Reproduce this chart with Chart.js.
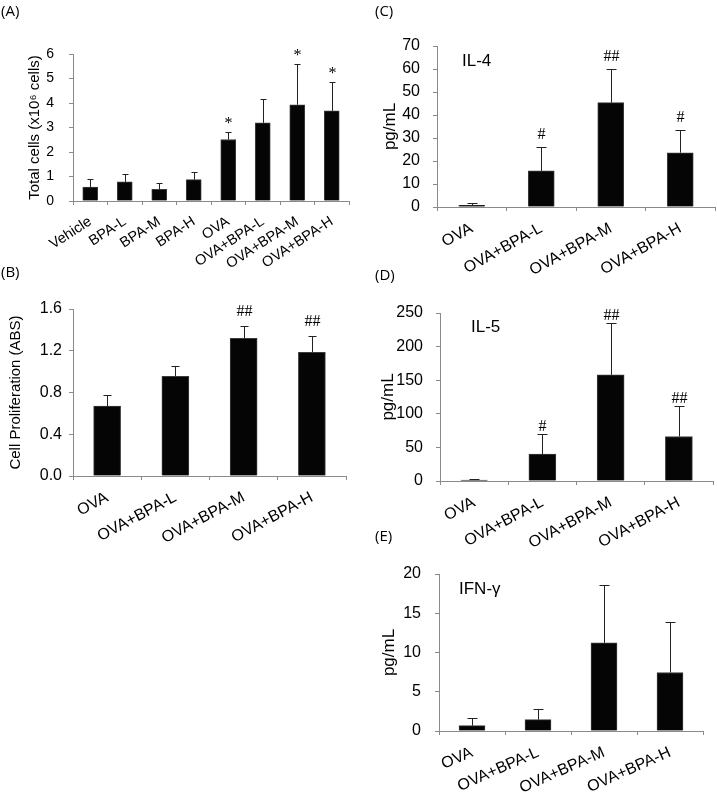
<!DOCTYPE html>
<html>
<head>
<meta charset="utf-8">
<script src="https://cdn.jsdelivr.net/npm/chart.js@4.4.0/dist/chart.umd.min.js"></script>
<style>
body{margin:0;background:#fff;}
#wrap{position:relative;width:717px;height:798px;overflow:hidden;}
canvas{position:absolute;}
.tag{position:absolute;font:15px 'Open Sans','Liberation Sans',Arial,sans-serif;color:#000;}
</style>
</head>
<body>
<div id="wrap">
  <canvas id="chartA" width="360" height="275" style="left:0;top:0"></canvas>
  <canvas id="chartB" width="360" height="320" style="left:0;top:245px"></canvas>
  <canvas id="chartC" width="357" height="295" style="left:360px;top:0"></canvas>
  <canvas id="chartD" width="357" height="300" style="left:360px;top:265px"></canvas>
  <canvas id="chartE" width="357" height="268" style="left:360px;top:530px"></canvas>
  <div class="tag" style="left:1px;top:0px">(A)</div>
  <div class="tag" style="left:1px;top:261px">(B)</div>
  <div class="tag" style="left:375px;top:0px">(C)</div>
  <div class="tag" style="left:375px;top:264px">(D)</div>
  <div class="tag" style="left:375px;top:525px">(E)</div>
</div>
<script>
// groups
var allGroups = ['Vehicle', 'BPA-L', 'BPA-M', 'BPA-H', 'OVA', 'OVA+BPA-L', 'OVA+BPA-M', 'OVA+BPA-H'];
var ovaGroups = ['OVA', 'OVA+BPA-L', 'OVA+BPA-M', 'OVA+BPA-H'];

// (A) total cells, x10^6
var totalCells = [0.57, 0.78, 0.48, 0.87, 2.51, 3.19, 3.93, 3.68];
var totalCellsErr = [0.32, 0.31, 0.24, 0.32, 0.30, 0.98, 1.65, 1.16];
var totalCellsMarks = ['', '', '', '', '*', '', '*', '*'];

// (B) cell proliferation (ABS)
var prolif = [0.67, 0.955, 1.318, 1.186];
var prolifErr = [0.106, 0.10, 0.118, 0.151];
var prolifMarks = ['', '', '##', '##'];

// (C) IL-4 pg/mL
var il4 = [0.7, 15.7, 45.4, 23.6];
var il4Err = [0.9, 10.5, 14.7, 10.0];
var il4Marks = ['', '#', '##', '#'];

// (D) IL-5 pg/mL
var il5 = [1.5, 40, 158, 66.2];
var il5Err = [1.0, 29.7, 77.7, 45.5];
var il5Marks = ['', '#', '##', '##'];

// (E) IFN-gamma pg/mL
var ifn = [0.68, 1.45, 11.23, 7.45];
var ifnErr = [0.94, 1.32, 7.37, 6.38];
var ifnMarks = ['', '', '', ''];

var sans = "'Liberation Sans', Arial, sans-serif";
var axisGray = '#8a8a8a';

// draws the upper error bars, the significance marks and the inner label
var errorBarPlugin = {
  id: 'errorBars',
  afterDatasetsDraw: function(chart, args, opts) {
    var ds = chart.data.datasets[0];
    var meta = chart.getDatasetMeta(0);
    var y = chart.scales.y;
    var ctx = chart.ctx;
    ctx.save();
    ctx.strokeStyle = '#222';
    ctx.lineWidth = 1;
    meta.data.forEach(function(bar, i) {
      var top = Math.round(y.getPixelForValue(ds.data[i] + ds.errors[i])) + 0.5;
      var x = Math.round(bar.x) + 0.5;
      ctx.beginPath();
      ctx.moveTo(x, bar.y);
      ctx.lineTo(x, top);
      ctx.moveTo(x - opts.cap, top);
      ctx.lineTo(x + opts.cap, top);
      ctx.stroke();
      if (ds.marks[i]) {
        ctx.fillStyle = '#000';
        ctx.font = "16px 'Liberation Serif', 'Times New Roman', serif";
        ctx.textAlign = 'center';
        ctx.textBaseline = 'middle';
        ctx.fillText(ds.marks[i], x, top - opts.markGap);
      }
    });
    if (opts.inner) {
      ctx.fillStyle = '#000';
      ctx.font = '17px ' + sans;
      ctx.textAlign = 'left';
      ctx.textBaseline = 'middle';
      ctx.fillText(opts.inner, chart.chartArea.left + opts.innerX, chart.chartArea.top + opts.innerY);
    }
    ctx.restore();
  }
};

function makePanel(id, labels, values, errors, marks, yMax, yStep, decimals, yTitle, p) {
  var ctx = document.getElementById(id).getContext('2d');
  return new Chart(ctx, {
    type: 'bar',
    data: {
      labels: labels,
      datasets: [{
        data: values,
        errors: errors,
        marks: marks,
        backgroundColor: '#050505',
        borderColor: '#3c3c3c',
        borderWidth: 1,
        barThickness: p.barW
      }]
    },
    options: {
      responsive: false,
      animation: false,
      layout: { padding: { top: p.padTop, right: p.padRight, left: 0, bottom: 0 } },
      plugins: {
        legend: { display: false },
        tooltip: { enabled: false },
        errorBars: { cap: p.cap, markGap: p.markGap, inner: p.inner, innerX: p.innerX, innerY: p.innerY }
      },
      scales: {
        x: {
          grid: { drawOnChartArea: false, drawTicks: true, tickLength: 4, color: axisGray },
          border: { color: axisGray },
          ticks: {
            autoSkip: false, minRotation: p.rot, maxRotation: p.rot, padding: 8,
            color: '#000', font: { family: sans, size: p.xFont }
          },
          afterFit: function(s) { s.height = p.xH; }
        },
        y: {
          min: 0, max: yMax,
          grid: { drawOnChartArea: false, drawTicks: true, tickLength: 4, color: axisGray },
          border: { color: axisGray },
          ticks: {
            stepSize: yStep, padding: p.tickPad, color: '#000',
            font: { family: sans, size: p.yFont },
            callback: function(v) { return v.toFixed(decimals); }
          },
          title: {
            display: true, text: yTitle, color: '#000',
            font: { family: sans, size: p.titleFont },
            padding: { top: p.titlePad, bottom: 0 }
          },
          afterFit: function(s) { s.width = p.yW; }
        }
      }
    },
    plugins: [errorBarPlugin]
  });
}

makePanel('chartA', allGroups, totalCells, totalCellsErr, totalCellsMarks, 6, 1, 0,
  'Total cells (x10\u2076 cells)',
  { yW: 73, xH: 74, padTop: 54, padRight: 11, barW: 15, cap: 3, markGap: 9, tickPad: 15, titlePad: 26,
    xFont: 14.5, yFont: 14, titleFont: 15, rot: 33 });

makePanel('chartB', ovaGroups, prolif, prolifErr, prolifMarks, 1.6, 0.4, 1,
  'Cell Proliferation (ABS)',
  { yW: 73, xH: 89, padTop: 64, padRight: 14, barW: 27, cap: 4, markGap: 15, tickPad: 7, titlePad: 7,
    xFont: 16, yFont: 16, titleFont: 15, rot: 28 });

makePanel('chartC', ovaGroups, il4, il4Err, il4Marks, 70, 10, 0, 'pg/mL',
  { yW: 77, xH: 88, padTop: 46, padRight: 2, barW: 26, cap: 5, markGap: 13, tickPad: 13, titlePad: 20,
    xFont: 16, yFont: 16, titleFont: 17, rot: 29, inner: 'IL-4', innerX: 25, innerY: 15 });

makePanel('chartD', ovaGroups, il5, il5Err, il5Marks, 250, 50, 0, 'pg/mL',
  { yW: 80, xH: 84, padTop: 48, padRight: 4, barW: 27, cap: 5, markGap: 8, tickPad: 13, titlePad: 18,
    xFont: 16, yFont: 16, titleFont: 17, rot: 28, inner: 'IL-5', innerX: 31, innerY: 14 });

makePanel('chartE', ovaGroups, ifn, ifnErr, ifnMarks, 20, 5, 0, 'pg/mL',
  { yW: 79, xH: 67, padTop: 44, padRight: 14, barW: 26, cap: 5, markGap: 9, tickPad: 14, titlePad: 19,
    xFont: 16, yFont: 16, titleFont: 17, rot: 24, inner: 'IFN-\u03b3', innerX: 20, innerY: 15 });
</script>
</body>
</html>
